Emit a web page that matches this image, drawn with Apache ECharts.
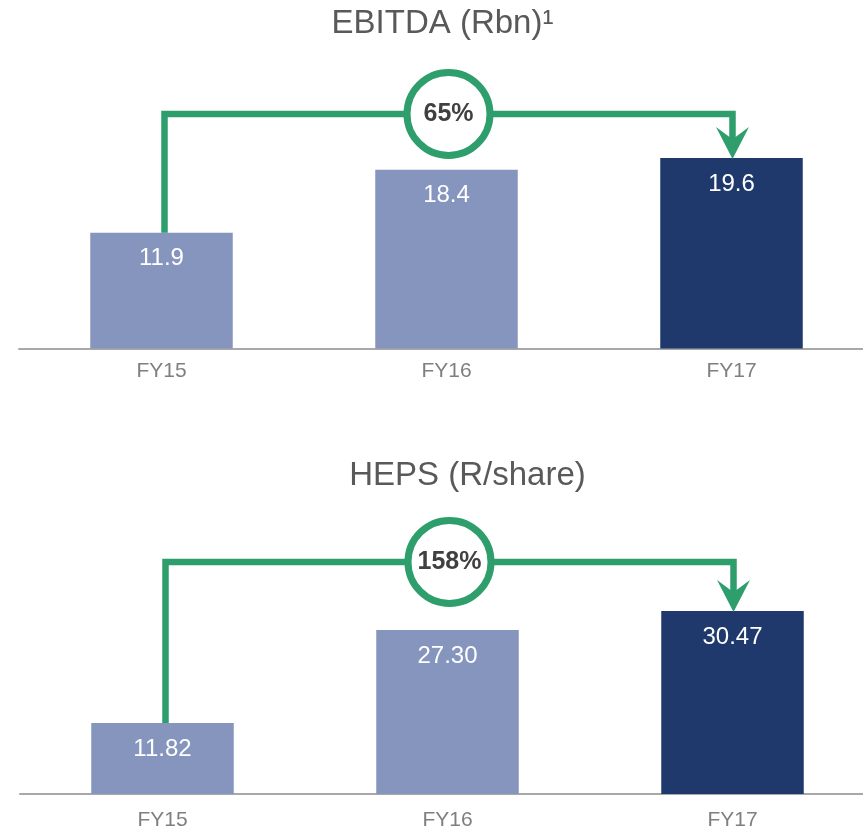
<!DOCTYPE html>
<html>
<head>
<meta charset="utf-8">
<title>EBITDA and HEPS</title>
<script src="https://cdn.jsdelivr.net/npm/echarts@6/dist/echarts.min.js"></script>
<style>
  html, body { margin: 0; padding: 0; background: #ffffff; }
  #chart { width: 863px; height: 832px; }
</style>
</head>
<body>
<div id="chart"></div>
<script>
// Financial years shown on both panels
const years = ['FY15', 'FY16', 'FY17'];

// EBITDA, Rand billions
const ebitda = [11.9, 18.4, 19.6];
const ebitdaLabels = ['11.9', '18.4', '19.6'];

// Headline earnings per share, Rand per share
const heps = [11.82, 27.30, 30.47];
const hepsLabels = ['11.82', '27.30', '30.47'];

// Growth FY15 -> FY17 shown in the badge
const growthLabels = ['65%', '158%'];

const FONT = '"Liberation Sans", Arial, sans-serif';
const GREEN = '#2e9e6c';
const LIGHT = '#8595bd';
const DARK = '#1f396d';

function barData(values, labels) {
  return values.map((v, i) => ({
    value: v,
    itemStyle: { color: i === values.length - 1 ? DARK : LIGHT },
    label: { formatter: labels[i] }
  }));
}

// Elbow connector from the first bar to the last one, with a growth badge
function bracket(rise, text) {
  return function (params, api) {
    const a = api.coord([api.value(0), api.value(1)]);
    const b = api.coord([api.value(2), api.value(3)]);
    const lx = a[0] + 3;
    const rx = b[0] + 1;
    const level = Math.min(a[1], b[1]) - rise;
    const tipY = b[1] + 1;
    const cx = (lx + rx) / 2;
    return {
      type: 'group',
      children: [
        {
          type: 'polyline',
          shape: { points: [[lx, a[1]], [lx, level], [rx, level], [rx, tipY - 22]] },
          style: { stroke: GREEN, lineWidth: 6.5, fill: 'none', lineJoin: 'miter' }
        },
        {
          type: 'polygon',
          shape: { points: [[rx, tipY], [rx + 16.5, tipY - 32], [rx + 3, tipY - 22], [rx - 3, tipY - 22], [rx - 16.5, tipY - 32]] },
          style: { fill: GREEN }
        },
        {
          type: 'circle',
          shape: { cx: cx, cy: level, r: 41.5 },
          style: { fill: '#ffffff', stroke: GREEN, lineWidth: 7 }
        },
        {
          type: 'text',
          style: {
            x: cx, y: level, text: text, align: 'center', verticalAlign: 'middle',
            font: 'bold 25px ' + FONT, fill: '#404040'
          }
        }
      ]
    };
  };
}

function xAxis(gridIndex, margin) {
  return {
    type: 'category', gridIndex: gridIndex, data: years,
    axisTick: { show: false },
    axisLine: { lineStyle: { color: '#a8a8a8', width: 2 } },
    axisLabel: { color: '#7f7f7f', fontSize: 21, fontFamily: FONT, margin: margin }
  };
}

function yAxis(gridIndex, max) {
  return {
    type: 'value', gridIndex: gridIndex, min: 0, max: max,
    show: false, splitLine: { show: false }
  };
}

function barSeries(idx, values, labels) {
  return {
    type: 'bar', xAxisIndex: idx, yAxisIndex: idx,
    barWidth: '50%',
    data: barData(values, labels),
    label: {
      show: true, position: 'insideTop', distance: 14,
      color: '#ffffff', fontSize: 24, fontFamily: FONT
    }
  };
}

function bracketSeries(idx, values, rise, text) {
  return {
    type: 'custom', xAxisIndex: idx, yAxisIndex: idx, z: 5,
    encode: { x: [0, 2], y: [1, 3] },
    data: [[0, values[0], values.length - 1, values[values.length - 1]]],
    renderItem: bracket(rise, text),
    silent: true
  };
}

const chart = echarts.init(document.getElementById('chart'), null, { renderer: 'canvas' });
chart.setOption({
  animation: false,
  textStyle: { fontFamily: FONT },
  graphic: [
    {
      type: 'text',
      style: { x: 442.5, y: 24, text: 'EBITDA (Rbn)\u00b9', align: 'center', verticalAlign: 'middle', font: '33px ' + FONT, fill: '#595959' }
    },
    {
      type: 'text',
      style: { x: 467.5, y: 476, text: 'HEPS (R/share)', align: 'center', verticalAlign: 'middle', font: '33px ' + FONT, fill: '#595959' }
    }
  ],
  grid: [
    { left: 19, width: 855, top: 105.5, height: 243, outerBoundsMode: 'none', containLabel: false },
    { left: 20, width: 855, top: 553.6, height: 240.4, outerBoundsMode: 'none', containLabel: false }
  ],
  xAxis: [xAxis(0, 12), xAxis(1, 16)],
  yAxis: [yAxis(0, 25), yAxis(1, 40)],
  series: [
    barSeries(0, ebitda, ebitdaLabels),
    bracketSeries(0, ebitda, 44, growthLabels[0]),
    barSeries(1, heps, hepsLabels),
    bracketSeries(1, heps, 49, growthLabels[1])
  ]
});
</script>
</body>
</html>
